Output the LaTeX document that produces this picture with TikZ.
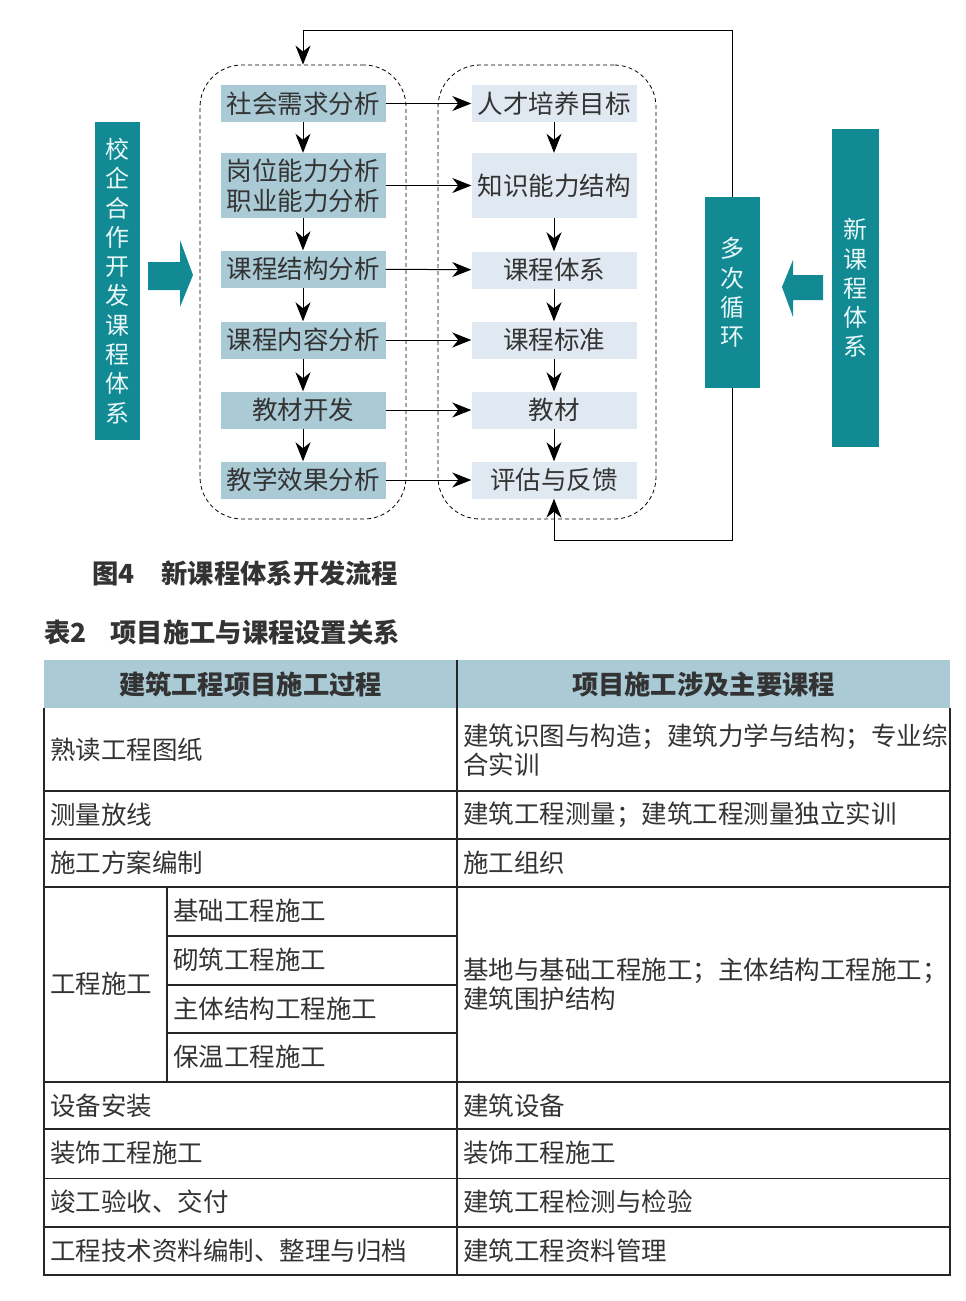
\documentclass[tikz,border=0pt]{standalone}
\usepackage{fontspec}
\setmainfont{Noto Sans CJK SC}
\usetikzlibrary{arrows.meta}
\definecolor{tealbar}{RGB}{18,138,148}
\definecolor{boxa}{RGB}{170,202,214}
\definecolor{boxb}{RGB}{224,233,241}
\definecolor{ink}{RGB}{51,51,51}
\definecolor{pale}{RGB}{232,248,248}
\begin{document}
\begin{tikzpicture}[x=1pt,y=-1pt,>={Stealth[length=19pt,width=15pt,inset=6pt]},
	stepa/.style={fill=boxa,text=ink,minimum width=165pt,minimum height=37pt,inner sep=0pt,
		font=\fontsize{25.5}{30}\selectfont,align=center},
	stepb/.style={stepa,fill=boxb},
	bar/.style={fill=tealbar,text=pale,inner sep=0pt,font=\fontsize{24}{29.3}\selectfont,align=center},
	group/.style={draw,dash pattern=on 4pt off 3pt,line width=0.8pt,rounded corners=42pt,
		minimum width=206pt,minimum height=454pt,inner sep=0pt},
	cell/.style={anchor=west,text=ink,inner sep=0pt,font=\fontsize{25.5}{29}\selectfont,align=left},
	head/.style={text=ink,inner sep=0pt,font=\fontsize{26.3}{29}\bfseries\selectfont},
	rule/.style={draw=black!85,line width=1.8pt}]
\useasboundingbox (0,0) rectangle (966,1301);
% side bars and block arrows
\node[bar,minimum width=45pt,minimum height=318pt] (src) at (117.5,281)
	{校\\企\\合\\作\\开\\发\\课\\程\\体\\系};
\node[bar,minimum width=55pt,minimum height=191pt] (cyc) at (732.5,292.5) {多\\次\\循\\环};
\node[bar,minimum width=47pt,minimum height=318pt] (new) at (855.5,288) {新\\课\\程\\体\\系};
\fill[tealbar] (148,262) -- (180,262) -- (180,240) -- (193,275) -- (180,307) -- (180,290)
	-- (148,290) -- cycle;
\fill[tealbar] (823,275) -- (793,275) -- (793,260) -- (782,287) -- (793,317) -- (793,300)
	-- (823,300) -- cycle;
% dashed groups
\node[group] (lgrp) at (303,292) {};
\node[group,minimum width=218pt] (rgrp) at (547,292) {};
% left column
\node[stepa] (a1) at (303,103.5) {社会需求分析};
\node[stepa,minimum height=65pt] (a2) at (303,185.5) {岗位能力分析\\职业能力分析};
\node[stepa] (a3) at (303,269) {课程结构分析};
\node[stepa] (a4) at (303,340) {课程内容分析};
\node[stepa] (a5) at (303,410) {教材开发};
\node[stepa] (a6) at (303,480) {教学效果分析};
% right column
\node[stepb] (b1) at (554,103.5) {人才培养目标};
\node[stepb,minimum height=65pt] (b2) at (554,185.5) {知识能力结构};
\node[stepb] (b3) at (554,270) {课程体系};
\node[stepb] (b4) at (554,340) {课程标准};
\node[stepb] (b5) at (554,410) {教材};
\node[stepb] (b6) at (554,480) {评估与反馈};
\foreach \i/\j in {1/2,2/3,3/4,4/5,5/6}{
	\draw[->,line width=1pt] (a\i) -- (a\j);
	\draw[->,line width=1pt] (b\i) -- (b\j);
}
\foreach \i in {1,...,6}
	\draw[->,line width=1pt] (a\i) -- (b\i);
% loop back
\draw[->,line width=1pt] (cyc.north) -- (cyc.north |- 0,30) -| (lgrp.north);
\draw[->,line width=1pt] (cyc.south) -- (cyc.south |- 0,540) -| (b6.south);
% captions
\node[head,anchor=west] (fig) at (92,573) {图4\hspace{27pt}新课程体系开发流程};
\node[head,anchor=west] (tab) at (44,632) {表2\hspace{24pt}项目施工与课程设置关系};
% table
\fill[boxa] (44,660) rectangle (950,708);
\node[head] (h1) at (250.5,684) {建筑工程项目施工过程};
\node[head] (h2) at (703.5,684) {项目施工涉及主要课程};
\draw[rule] (457,660) -- (457,1275);
\draw[rule] (44,708) -- (44,1275) -- (950,1275) -- (950,708);
\foreach \y in {791,839,887,1082,1129,1227}
	\draw[rule] (44,\y) -- (950,\y);
\draw[rule,line width=1pt] (44,1178) -- (950,1178);
\foreach \y in {936,985,1033}
	\draw[rule] (167,\y) -- (457,\y);
\draw[rule] (167,887) -- (167,1082);
\foreach \y/\a/\b [count=\i] in {750/熟读工程图纸/{建筑识图与构造；建筑力学与结构；专业综\\合实训},
		815/测量放线/建筑工程测量；建筑工程测量独立实训,
		863/施工方案编制/施工组织,
		1106/设备安装/建筑设备,
		1153/装饰工程施工/装饰工程施工,
		1202/竣工验收、交付/建筑工程检测与检验,
		1251/工程技术资料编制、整理与归档/建筑工程资料管理}{
	\node[cell] (l\i) at (50,\y) {\a};
	\node[cell] (r\i) at (463,\y) {\b};
}
\node[cell] (lw) at (50,984) {工程施工};
\foreach \y/\a [count=\i] in {911/基础工程施工,960/砌筑工程施工,1009/主体结构工程施工,1057/保温工程施工}
	\node[cell] (s\i) at (173,\y) {\a};
\node[cell] (rw) at (463,984) {基地与基础工程施工；主体结构工程施工；\\建筑围护结构};
\end{tikzpicture}
\end{document}
